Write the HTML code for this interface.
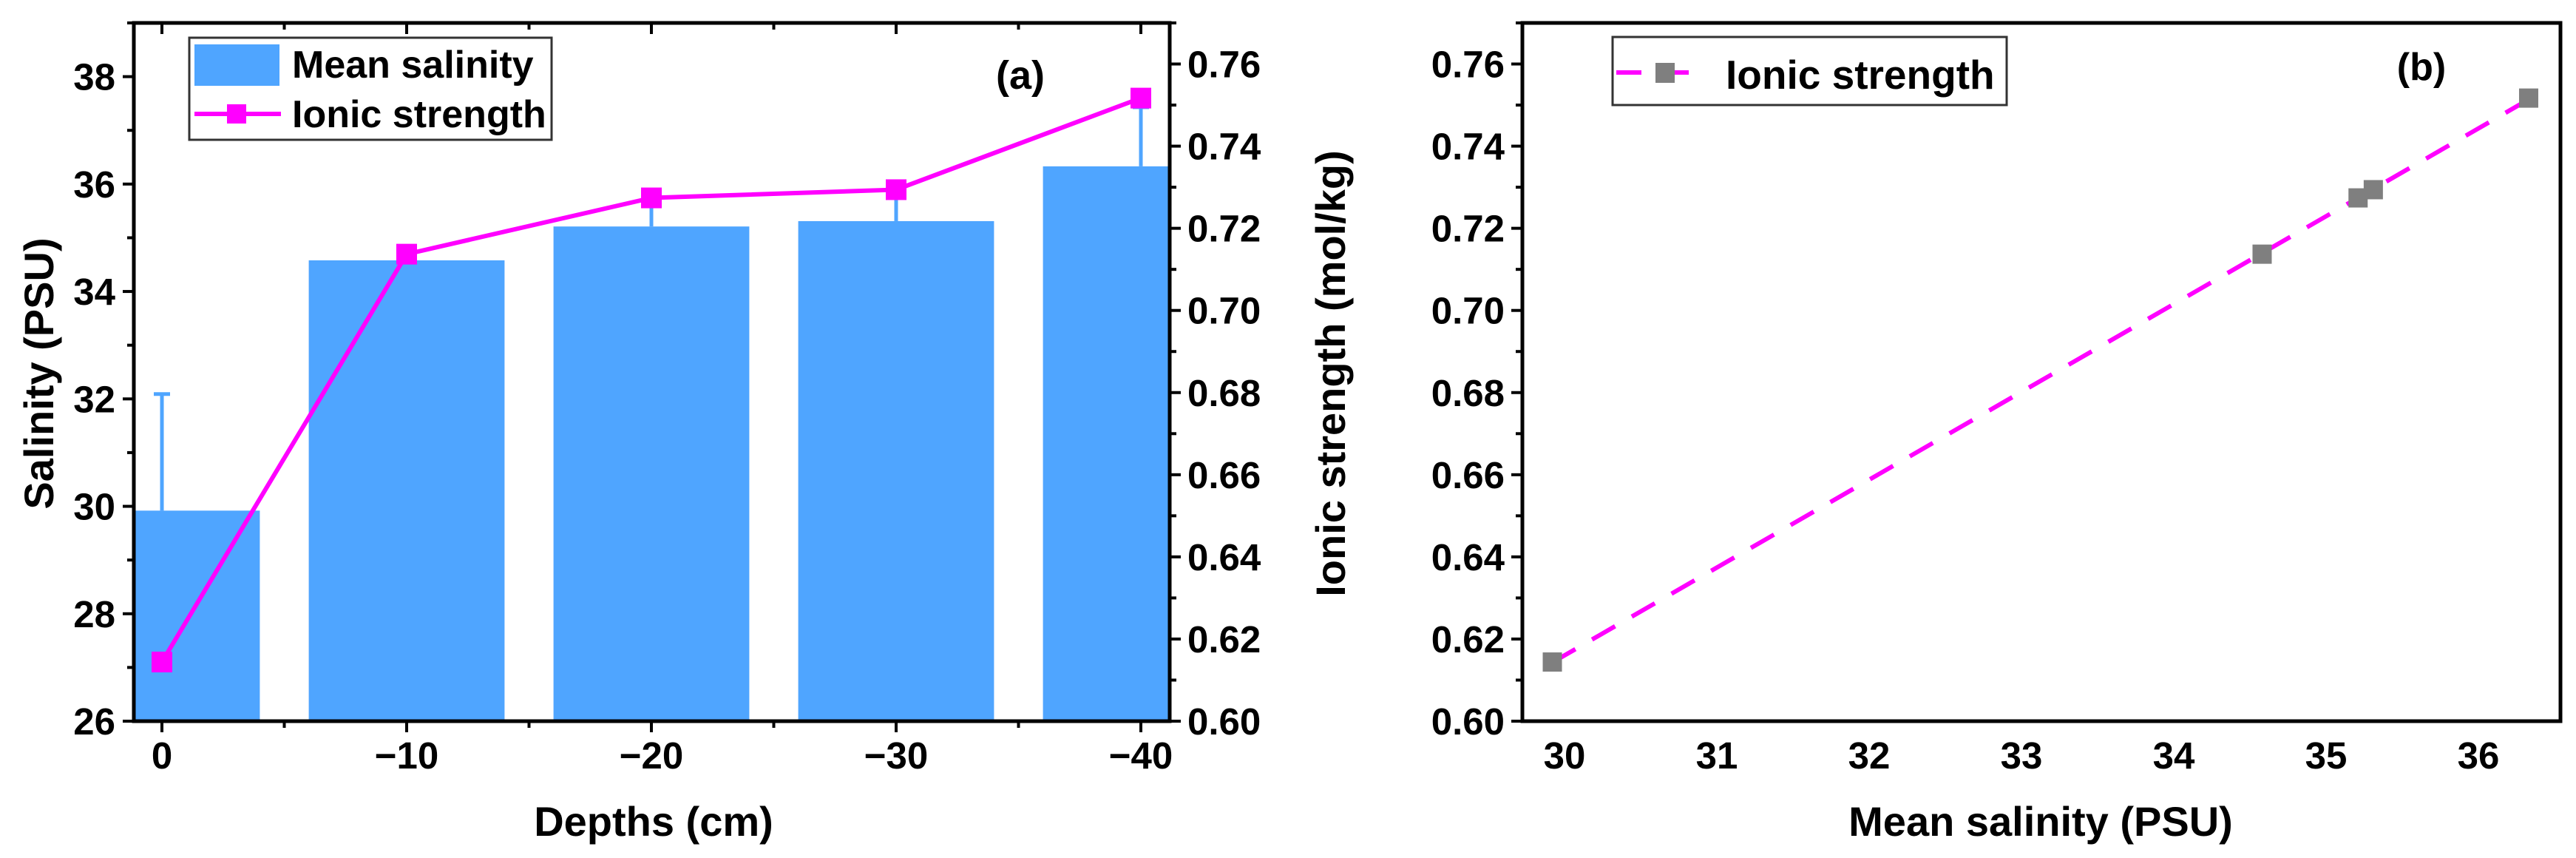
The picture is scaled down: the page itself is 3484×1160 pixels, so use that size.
<!DOCTYPE html>
<html><head><meta charset="utf-8">
<style>
html,body{margin:0;padding:0;background:#fff;}
svg{display:block;font-family:"Liberation Sans",Arial,sans-serif;font-weight:bold;}
</style></head>
<body>
<svg id="fig" width="3484" height="1160" viewBox="0 0 3484 1160" xmlns="http://www.w3.org/2000/svg">
<defs><clipPath id="clipA"><rect x="181" y="31" width="1401" height="944"/></clipPath></defs>
<g id="chartA"><g id="plotA" clip-path="url(#clipA)"></g></g>
<g id="chartB"></g>
</svg>
<script>
// ---- data ----
const depths = [0, -10, -20, -30, -40];
const meanSalinity = [29.92, 34.58, 35.21, 35.31, 36.33];
const salinityErr = [2.17, 0.0, 0.5, 0.55, 1.1];
const ionicStrength = [0.6144, 0.7137, 0.7274, 0.7294, 0.7517];
const depthTicks = [0, -10, -20, -30, -40];
const salTicks = [26, 28, 30, 32, 34, 36, 38];
const ionTicks = [0.60, 0.62, 0.64, 0.66, 0.68, 0.70, 0.72, 0.74, 0.76];
const meanSalTicksB = [30, 31, 32, 33, 34, 35, 36];

const NS = "http://www.w3.org/2000/svg";
function mk(parent, tag, attrs, text){
  const e = document.createElementNS(NS, tag);
  for (const k in attrs) e.setAttribute(k, attrs[k]);
  if (text !== undefined) e.textContent = text;
  parent.appendChild(e);
  return e;
}
const BLUE = "#4FA5FF", MAG = "#FF00FF", GRAY = "#7F7F7F";

// ---- chart A ----
const A = document.getElementById('chartA');
const P = document.getElementById('plotA');
const aL = 181, aR = 1582, aT = 31, aB = 975;
const xA = d => 219 + (0 - d) * 33.1;
const ySal = v => aB - (v - 26) / 13 * (aB - aT);
const yIon = v => aB - (v - 0.60) / 0.17 * (aB - aT);

depths.forEach((d, i) => {
  const r = mk(P, 'rect', {x: xA(d + 4), y: ySal(meanSalinity[i]), width: xA(d - 4) - xA(d + 4), height: aB - ySal(meanSalinity[i]), fill: BLUE});
  
  
  const top = ySal(meanSalinity[i] + salinityErr[i]);
  const eb = mk(P, 'line', {x1: xA(d), x2: xA(d), y1: ySal(meanSalinity[i]), y2: top, stroke: BLUE, 'stroke-width': 5});
  
  
  const cap = mk(P, 'line', {x1: xA(d) - 11, x2: xA(d) + 11, y1: top, y2: top, stroke: BLUE, 'stroke-width': 5});
  
  
});
const linePts = depths.map((d, i) => xA(d) + ',' + yIon(ionicStrength[i])).join(' ');
const pl = mk(A, 'polyline', {points: linePts, fill: 'none', stroke: MAG, 'stroke-width': 6});


depths.forEach((d, i) => {
  const m = mk(A, 'rect', {x: xA(d) - 14, y: yIon(ionicStrength[i]) - 14, width: 28, height: 28, fill: MAG});
  
  
});

// frame
const fa = mk(A, 'rect', {x: aL, y: aT, width: aR - aL, height: aB - aT, fill: 'none', stroke: '#000', 'stroke-width': 5});



// x ticks
for (let d = 0; d >= -40; d -= 5) {
  const major = d % 10 === 0;
  mk(A, 'line', {x1: xA(d), x2: xA(d), y1: aB, y2: aB + (major ? 15 : 9), stroke: '#000', 'stroke-width': 4});
  mk(A, 'line', {x1: xA(d), x2: xA(d), y1: aT, y2: aT + (major ? 15 : 9), stroke: '#000', 'stroke-width': 4});
}
depthTicks.forEach(d => {
  const t = mk(A, 'text', {x: xA(d), y: 1039, 'text-anchor': 'middle', 'font-size': 51}, d === 0 ? '0' : '\u2212' + Math.abs(d));
  
  
});
// left y ticks
for (let v = 26; v <= 39; v += 1) {
  const major = v % 2 === 0;
  mk(A, 'line', {x1: aL, x2: aL - (major ? 15 : 9), y1: ySal(v), y2: ySal(v), stroke: '#000', 'stroke-width': 4});
}
salTicks.forEach(v => {
  const t = mk(A, 'text', {x: 156, y: ySal(v) + 18, 'text-anchor': 'end', 'font-size': 51}, String(v));
  
  
});
// right y ticks
for (let k = 0; k <= 17; k++) {
  const v = 0.60 + k * 0.01;
  const major = k % 2 === 0;
  mk(A, 'line', {x1: aR, x2: aR + (major ? 15 : 9), y1: yIon(v), y2: yIon(v), stroke: '#000', 'stroke-width': 4});
}
ionTicks.forEach(v => {
  const t = mk(A, 'text', {x: 1606, y: yIon(v) + 18, 'text-anchor': 'start', 'font-size': 51}, v.toFixed(2));
  
  
});
</script>
<script>
// titles A (static)
(function(){
  const A = document.getElementById('chartA');
  const NS = "http://www.w3.org/2000/svg";
  function t(x,y,s,txt,rot,name){
    const e=document.createElementNS(NS,'text');
    e.setAttribute('x',x);e.setAttribute('y',y);e.setAttribute('font-size',s);
    e.setAttribute('text-anchor','middle');
    if(rot) e.setAttribute('transform','rotate(-90 '+x+' '+y+')');
    e.textContent=txt;
    
    
    A.appendChild(e);
  }
  t(884,1130,56,'Depths (cm)',false,'x-axis-title-a');
  t(72,505,56,'Salinity (PSU)',true,'y-left-axis-title');
  t(1819,505,56,'Ionic strength (mol/kg)',true,'y-right-axis-title');
  t(1380,120,54,'(a)',false,'panel-label-a');
})();
</script>
<script>
// legend A
(function(){
  const A = document.getElementById('chartA');
  const NS = "http://www.w3.org/2000/svg";
  function el(tag,a,txt){const e=document.createElementNS(NS,tag);for(const k in a)e.setAttribute(k,a[k]);if(txt!==undefined)e.textContent=txt;A.appendChild(e);return e;}
  const box=el('rect',{x:256,y:51,width:490,height:138,fill:'#fff',stroke:'#333','stroke-width':3});
  
  
  const sw=el('rect',{x:263,y:60,width:115,height:56,fill:'#4FA5FF'});
  
  
  const t1=el('text',{x:395,y:105,'font-size':52},'Mean salinity');
  
  
  const ln=el('line',{x1:263,x2:380,y1:154,y2:154,stroke:'#FF00FF','stroke-width':6});
  
  
  const mk=el('rect',{x:307,y:141,width:26,height:26,fill:'#FF00FF'});
  
  
  const t2=el('text',{x:395,y:172,'font-size':52},'Ionic strength');
  
  
})();
</script>
<script>
// ---- chart B ----
(function(){
  const B = document.getElementById('chartB');
  const NS = "http://www.w3.org/2000/svg";
  function el(tag,a,txt){const e=document.createElementNS(NS,tag);for(const k in a)e.setAttribute(k,a[k]);if(txt!==undefined)e.textContent=txt;B.appendChild(e);return e;}
  const bL=2059,bR=3463,bT=31,bB=975;
  const xB = v => 2116 + (v - 30) * 206;
  const yB = v => bB - (v - 0.60) / 0.17 * (bB - bT);
  const n = meanSalinity.length;
  const mx = meanSalinity.reduce((a,b)=>a+b,0)/n, my = ionicStrength.reduce((a,b)=>a+b,0)/n;
  let sxy=0,sxx=0;
  for(let i=0;i<n;i++){sxy+=(meanSalinity[i]-mx)*(ionicStrength[i]-my);sxx+=(meanSalinity[i]-mx)**2;}
  const slope=sxy/sxx, icpt=my-slope*mx;
  const x0=Math.min(...meanSalinity), x1=Math.max(...meanSalinity);
  const fit=el('line',{x1:xB(x0),y1:yB(slope*x0+icpt),x2:xB(x1),y2:yB(slope*x1+icpt),stroke:'#FF00FF','stroke-width':6,'stroke-dasharray':'36 26'});
  
  
  for(let i=0;i<n;i++){
    const p=el('rect',{x:xB(meanSalinity[i])-13,y:yB(ionicStrength[i])-13,width:26,height:26,fill:'#7F7F7F'});
    
    
  }
  const fr=el('rect',{x:bL,y:bT,width:bR-bL,height:bB-bT,fill:'none',stroke:'#000','stroke-width':5});
  
  
  for(let k=0;k<=17;k++){
    const v=0.60+k*0.01, major=k%2===0;
    el('line',{x1:bL,x2:bL-(major?15:9),y1:yB(v),y2:yB(v),stroke:'#000','stroke-width':4});
  }
  ionTicks.forEach(v=>{
    const t=el('text',{x:2035,y:yB(v)+18,'text-anchor':'end','font-size':51},v.toFixed(2));
    
    
  });
  meanSalTicksB.forEach(v=>{
    const t=el('text',{x:xB(v),y:1039,'text-anchor':'middle','font-size':51},String(v));
    
    
  });
  const xt=el('text',{x:2760,y:1130,'text-anchor':'middle','font-size':56},'Mean salinity (PSU)');
  
  
  const pb=el('text',{x:3275,y:108,'text-anchor':'middle','font-size':52},'(b)');
  
  
  const lb=el('rect',{x:2181,y:50,width:533,height:92,fill:'#fff',stroke:'#333','stroke-width':3});
  
  
  const ll=el('line',{x1:2186,x2:2290,y1:98,y2:98,stroke:'#FF00FF','stroke-width':6,'stroke-dasharray':'34 30'});
  
  
  const lm=el('rect',{x:2239,y:85,width:26,height:27,fill:'#7F7F7F'});
  
  
  const lt=el('text',{x:2334,y:120,'font-size':55},'Ionic strength');
  
  
})();
</script>
</body></html>
